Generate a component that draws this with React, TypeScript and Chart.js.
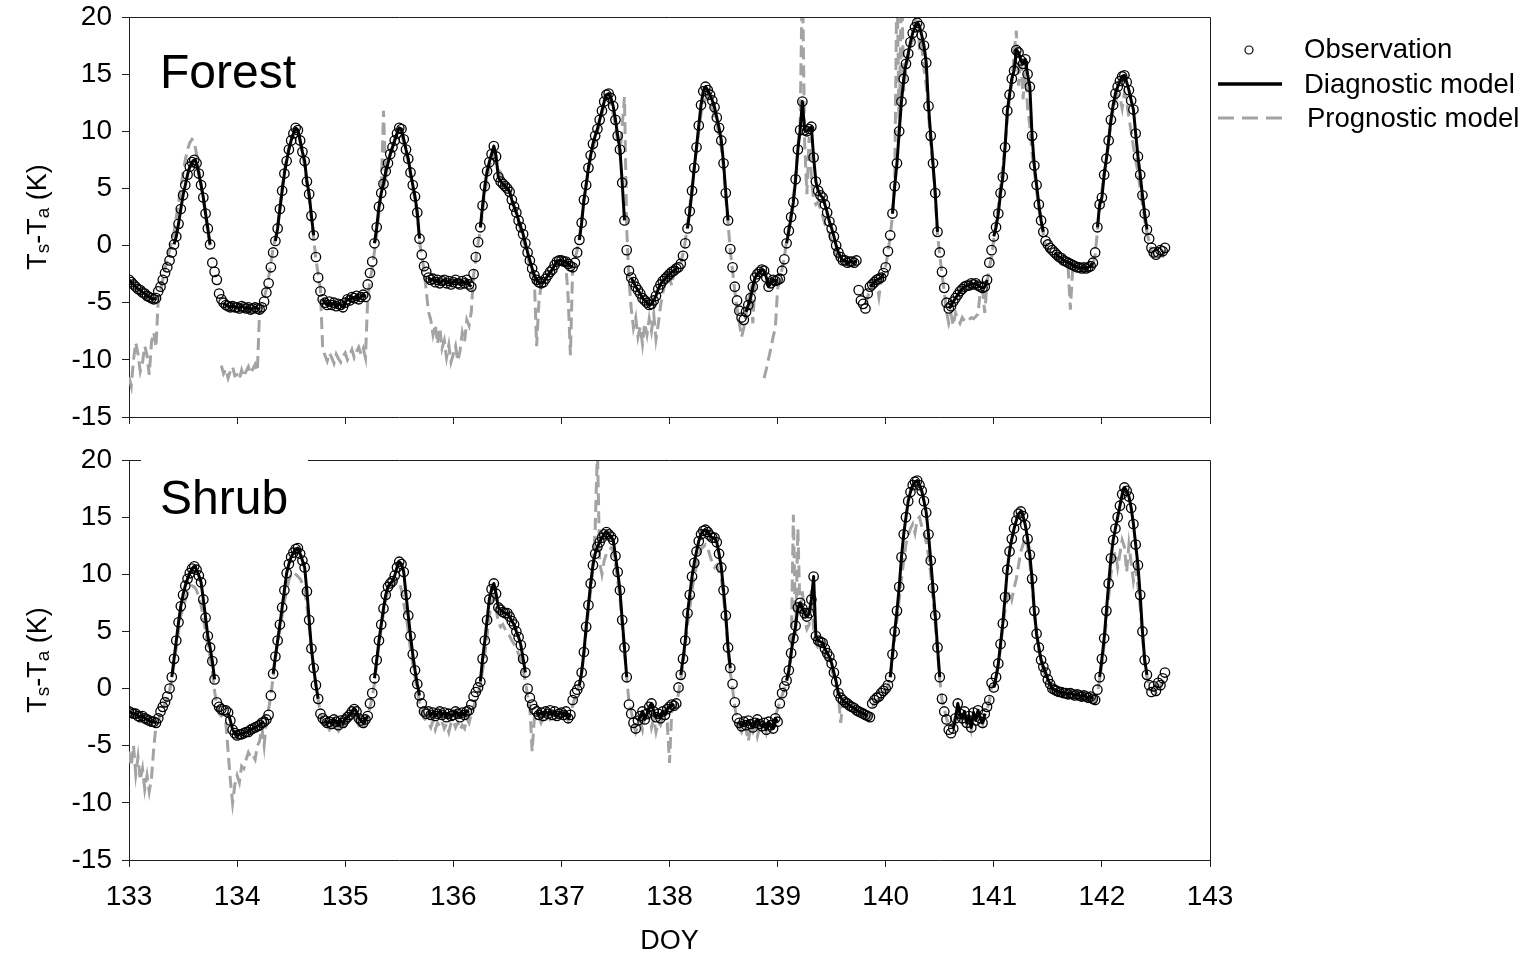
import { useEffect, useRef } from "react";
import { Chart, registerables } from "chart.js";

Chart.register(...registerables);

const n = null;
const DOY_START = 133;
const STEPS_PER_DAY = 48; // half-hourly samples
const xTickValues = [133, 134, 135, 136, 137, 138, 139, 140, 141, 142, 143];
const yTickValues = [-15, -10, -5, 0, 5, 10, 15, 20];
const legendLabels = ["Observation", "Diagnostic model", "Prognostic model"];
const panelLabels = ["Forest", "Shrub"];
const xTitle = "DOY";

// ---------------- Forest ----------------
const forestObs = [
  // 133
  -3.0,-3.2,-3.4,-3.6,-3.8,-3.9,-4.1,-4.2,-4.4,-4.5,-4.6,-4.7,
  -4.6,-4.0,-3.6,-3.0,-2.4,-1.9,-1.3,-0.6,0.1,0.8,1.9,3.2,
  4.4,5.3,6.2,6.9,7.3,7.5,7.2,6.3,5.3,4.2,2.8,1.5,
  0.1,-1.5,-2.3,-3.0,-4.2,-4.7,-5.0,-5.2,-5.3,-5.4,-5.3,-5.4,
  // 134
  -5.4,-5.5,-5.3,-5.4,-5.5,-5.4,-5.6,-5.5,-5.4,-5.5,-5.6,-5.4,
  -4.9,-4.1,-3.3,-1.9,-0.6,0.4,1.5,3.2,4.8,6.3,7.4,8.4,
  9.2,9.8,10.3,10.1,9.2,8.2,7.4,5.6,4.5,2.6,0.9,-1.0,
  -2.8,-4.0,-4.7,-5.0,-5.2,-4.9,-5.2,-5.0,-5.3,-5.1,-5.2,-5.4,
  // 135
  -5.0,-4.7,-4.8,-4.5,-4.6,-4.4,-4.7,-4.5,-4.3,-4.5,-3.4,-2.4,
  -1.4,0.2,1.6,3.4,4.6,5.4,6.5,7.2,8.0,8.6,9.2,9.8,
  10.3,10.2,9.3,8.4,7.6,6.4,5.3,4.3,2.9,0.6,-0.8,-1.8,
  -2.3,-2.8,-3.0,-2.9,-3.2,-3.0,-3.3,-3.1,-3.0,-3.3,-3.1,-3.4,
  // 136
  -3.2,-3.0,-3.3,-3.4,-3.1,-3.3,-3.0,-3.4,-3.6,-2.5,-1.0,0.3,
  1.6,3.5,5.2,6.5,7.3,8.0,8.7,7.8,6.0,5.6,5.4,5.2,
  5.0,4.7,4.0,3.4,2.9,2.2,1.6,1.0,0.2,-0.6,-1.3,-2.0,
  -2.6,-3.0,-3.2,-3.3,-3.2,-2.9,-2.6,-2.3,-2.1,-1.7,-1.4,-1.3,
  // 137
  -1.3,-1.4,-1.4,-1.6,-1.8,-1.9,-1.5,-0.6,0.5,2.0,4.0,5.3,
  6.8,7.9,8.9,9.6,10.2,11.0,11.8,12.6,13.2,13.3,12.9,12.2,
  11.0,9.6,8.4,5.5,2.2,-0.4,-2.2,-2.8,-3.2,-3.6,-3.9,-4.2,
  -4.6,-4.8,-5.0,-5.2,-5.1,-4.8,-4.4,-3.8,-3.4,-3.1,-2.9,-2.7,
  // 138
  -2.5,-2.3,-2.2,-2.0,-1.9,-1.6,-0.9,0.2,1.5,3.0,4.8,6.8,
  8.6,10.5,12.3,13.5,13.9,13.6,13.2,12.7,12.1,11.2,10.3,9.2,
  7.2,4.6,2.2,-0.3,-1.9,-3.6,-4.8,-5.7,-6.3,-6.5,-5.8,-5.2,
  -4.6,-3.6,-2.8,-2.5,-2.3,-2.1,-2.2,-2.8,-3.6,-3.3,-3.0,-3.1,
  // 139
  -3.0,-2.9,-2.2,-1.2,0.2,1.3,2.5,3.8,5.8,8.4,10.1,12.6,
  10.1,10.0,10.2,10.4,7.7,5.6,4.8,4.4,4.2,3.6,2.9,2.1,
  1.5,0.8,0.0,-0.6,-1.0,-1.3,-1.3,-1.5,-1.4,-1.4,-1.5,-1.3,
  -3.9,-4.8,-5.1,-5.5,-4.2,-3.6,-3.4,-3.2,-3.0,-2.9,-2.8,-2.4,
  // 140
  -1.9,-0.5,0.9,2.8,5.2,7.2,10.0,12.6,14.6,15.9,16.8,17.8,
  18.6,19.1,19.5,19.2,18.4,17.5,16.0,12.2,9.6,7.2,4.6,1.2,
  -0.6,-2.3,-3.7,-5.0,-5.5,-5.3,-4.9,-4.6,-4.3,-4.0,-3.8,-3.6,
  -3.5,-3.5,-3.3,-3.4,-3.3,-3.5,-3.6,-3.7,-3.6,-3.0,-1.5,-0.4,
  // 141
  0.8,1.6,2.8,4.6,6.0,8.6,11.8,13.2,14.6,15.3,17.1,16.9,
  16.2,15.9,16.3,15.0,13.9,9.6,7.0,5.3,3.6,2.2,1.2,0.4,
  0.1,-0.2,-0.4,-0.6,-0.8,-1.0,-1.1,-1.3,-1.4,-1.5,-1.6,-1.7,
  -1.8,-1.9,-1.9,-2.0,-1.9,-2.0,-1.9,-1.8,-1.5,-0.6,1.6,3.6,
  // 142
  4.2,6.2,7.6,9.2,11.0,12.3,13.3,13.9,14.4,14.8,14.9,14.3,
  13.6,12.7,11.9,9.8,7.8,6.2,4.4,2.8,1.4,0.6,-0.2,-0.6,
  -0.8,-0.6,-0.4,-0.5,-0.2,
];

const forestDiag = [
  // 133
  -3.0,-3.2,-3.4,-3.6,-3.8,-3.9,-4.1,-4.2,-4.4,-4.5,-4.6,-4.7,
  -4.6,n,n,n,n,n,n,n,0.1,0.8,1.9,3.2,
  4.4,5.3,6.2,6.9,7.3,7.5,7.2,6.3,5.3,4.2,2.8,1.5,
  0.1,n,n,n,n,n,-5.0,-5.2,-5.3,-5.4,-5.3,-5.4,
  // 134
  -5.4,-5.5,-5.3,-5.4,-5.5,-5.4,-5.6,-5.5,-5.4,-5.5,-5.6,n,
  n,n,n,n,n,0.4,1.5,3.2,4.8,6.3,7.4,8.4,
  9.2,9.8,10.3,10.1,9.2,8.2,7.4,5.6,4.5,2.6,0.9,n,
  n,n,-4.7,-5.0,-5.2,-4.9,-5.2,-5.0,-5.3,-5.1,-5.2,-5.4,
  // 135
  -5.0,-4.7,-4.8,-4.5,-4.6,-4.4,-4.7,-4.5,-4.3,-4.5,n,n,
  n,0.2,1.6,3.4,4.6,5.4,6.5,7.2,8.0,8.6,9.2,9.8,
  10.3,10.2,9.3,8.4,7.6,6.4,5.3,4.3,2.9,0.6,n,n,
  n,-2.8,-3.0,-2.9,-3.2,-3.0,-3.3,-3.1,-3.0,-3.3,-3.1,-3.4,
  // 136
  -3.2,-3.0,-3.3,-3.4,-3.1,-3.3,-3.0,-3.4,-3.6,n,n,n,
  1.6,3.5,5.2,6.5,7.3,8.0,8.7,7.8,6.0,5.6,5.4,5.2,
  5.0,4.7,4.0,3.4,2.9,2.2,1.6,1.0,0.2,-0.6,-1.3,-2.0,
  -2.6,-3.0,-3.2,-3.3,-3.2,-2.9,-2.6,-2.3,-2.1,-1.7,-1.4,-1.3,
  // 137
  -1.3,-1.4,-1.4,-1.6,-1.8,-1.9,n,n,0.5,2.0,4.0,5.3,
  6.8,7.9,8.9,9.6,10.2,11.0,11.8,12.6,13.2,13.3,12.9,12.2,
  11.0,9.6,8.4,5.5,2.2,n,n,-2.8,-3.2,-3.6,-3.9,-4.2,
  -4.6,-4.8,-5.0,-5.2,-5.1,-4.8,-4.4,-3.8,-3.4,-3.1,-2.9,-2.7,
  // 138
  -2.5,-2.3,-2.2,-2.0,-1.9,n,n,n,1.5,3.0,4.8,6.8,
  8.6,10.5,12.3,13.5,13.9,13.6,13.2,12.7,12.1,11.2,10.3,9.2,
  7.2,4.6,2.2,n,n,n,n,n,n,n,-5.8,-5.2,
  -4.6,-3.6,-2.8,-2.5,-2.3,-2.1,-2.2,-2.8,-3.6,-3.3,-3.0,-3.1,
  // 139
  -3.0,n,n,n,0.2,1.3,2.5,3.8,5.8,8.4,10.1,12.6,
  10.1,10.0,10.2,10.4,7.7,5.6,4.8,4.4,4.2,3.6,2.9,2.1,
  1.5,0.8,0.0,-0.6,-1.0,-1.3,-1.3,-1.5,-1.4,-1.4,-1.5,-1.3,
  n,n,n,n,n,-3.6,-3.4,-3.2,-3.0,-2.9,-2.8,-2.4,
  // 140
  n,n,n,2.8,5.2,7.2,10.0,12.6,14.6,15.9,16.8,17.8,
  18.6,19.1,19.5,19.2,18.4,17.5,16.0,12.2,9.6,7.2,4.6,1.2,
  n,n,n,n,-5.5,-5.3,-4.9,-4.6,-4.3,-4.0,-3.8,-3.6,
  -3.5,-3.5,-3.3,-3.4,-3.3,-3.5,-3.6,-3.7,-3.6,-3.0,n,n,
  // 141
  0.8,1.6,2.8,4.6,6.0,8.6,11.8,13.2,14.6,15.3,17.1,16.9,
  16.2,15.9,16.3,15.0,13.9,9.6,7.0,5.3,3.6,2.2,1.2,n,
  n,n,n,-0.6,-0.8,-1.0,-1.1,-1.3,-1.4,-1.5,-1.6,-1.7,
  -1.8,-1.9,-1.9,-2.0,-1.9,-2.0,-1.9,-1.8,-1.5,n,1.6,3.6,
  // 142
  4.2,6.2,7.6,9.2,11.0,12.3,13.3,13.9,14.4,14.8,14.9,14.3,
  13.6,12.7,11.9,9.8,7.8,6.2,4.4,2.8,1.4,n,n,n,
  n,n,n,n,n,
];

const forestProg = [
  // 133
  -11.5,-12.3,-10.0,-8.5,-9.5,-11.0,-10.2,-8.8,-9.6,-11.3,-8.4,-7.6,
  -8.9,-4.6,-3.9,-3.0,-2.0,-1.2,-0.4,0.3,1.2,2.5,3.8,5.0,
  6.4,7.5,8.4,9.0,9.3,9.1,8.0,6.6,5.4,4.0,2.6,1.2,
  0.0,n,n,n,n,-10.5,-11.2,-10.8,-11.6,-11.0,-10.6,-11.4,
  // 134
  -11.3,-11.7,-10.9,-11.5,-11.0,-10.6,-11.2,-10.8,-10.4,-11.0,-5.6,-5.4,
  -4.6,-3.8,-2.8,-1.5,-0.2,0.6,1.8,3.4,5.0,6.5,7.6,8.6,
  9.3,9.8,10.1,9.8,9.0,8.0,7.0,5.3,4.1,2.3,0.6,-1.2,
  -2.5,-3.9,-9.0,-9.6,-10.1,-9.4,-9.8,-10.3,-9.5,-9.9,-10.2,-9.7,
  // 135
  -9.4,-10.0,-9.6,-9.1,-9.8,-9.3,-8.9,-9.5,-9.0,-9.8,-4.6,-3.0,
  -2.0,-0.5,1.0,3.0,4.6,11.8,6.0,7.0,8.0,8.7,9.3,9.8,
  10.1,9.8,9.0,8.1,7.3,6.2,5.0,4.0,2.6,0.4,-1.0,-2.0,
  -4.0,-5.8,-6.5,-7.8,-6.9,-8.6,-7.2,-9.0,-8.3,-9.8,-8.7,-10.2,
  // 136
  -9.5,-8.8,-10.1,-9.2,-7.6,-8.4,-6.5,-7.0,-5.8,-2.6,-1.2,0.2,
  1.4,3.0,4.6,5.8,6.8,7.6,7.9,7.0,6.6,6.4,5.9,5.6,
  5.1,4.8,4.2,3.5,2.7,2.0,1.3,0.6,-0.2,-1.0,-1.8,-2.4,
  -3.0,-8.8,-5.0,-3.4,-3.2,-2.9,-2.7,-2.4,-2.2,-1.9,-1.6,-1.5,
  // 137
  -1.5,-1.6,-1.8,-4.5,-9.6,-2.0,-1.2,-0.4,0.8,2.2,4.0,5.4,
  6.6,7.7,8.5,9.2,10.0,10.6,11.5,12.3,12.8,13.0,12.4,11.5,
  10.5,9.0,8.0,10.5,13.0,1.5,-3.0,-5.5,-7.2,-6.3,-8.0,-7.1,
  -8.6,-6.8,-7.8,-6.4,-7.5,-6.0,-8.2,-6.9,-5.3,-4.2,-3.3,-2.6,
  // 138
  -2.8,-3.5,-2.4,-2.2,-2.0,-1.5,-0.7,0.4,1.8,3.4,5.0,6.8,
  8.5,10.0,11.5,12.4,12.8,13.0,12.6,12.0,11.3,10.6,9.7,8.6,
  6.8,4.2,2.0,-0.5,-2.2,-4.0,-5.5,-6.8,-8.0,-7.2,-6.0,-4.8,
  -4.0,-6.8,-3.0,-2.6,-2.4,n,-11.6,-10.8,-9.9,-9.0,-8.0,-7.2,
  // 139
  -3.8,-3.0,-2.0,-1.0,0.4,1.6,2.9,4.2,6.0,8.6,10.5,24.0,
  9.0,4.5,9.5,6.0,4.0,3.6,3.8,3.2,2.6,1.9,1.5,1.0,
  0.3,-0.3,-0.8,-1.2,-1.3,-1.5,-1.4,-1.6,-1.5,-1.4,-1.6,-1.5,
  n,n,n,-5.2,-4.5,-3.8,-3.6,-3.3,-3.2,-4.5,-3.1,-2.6,
  // 140
  -1.8,-0.6,0.8,2.6,5.5,24.0,9.5,24.0,13.5,15.5,16.5,17.5,
  18.0,18.6,24.0,17.0,17.5,15.5,14.0,11.5,9.0,6.8,4.3,1.0,
  -0.8,-2.5,-4.0,-5.8,-6.8,-6.0,-7.0,-5.9,-6.4,-6.8,-6.3,-6.6,
  -6.4,-6.5,-6.3,-6.4,-6.2,-6.0,-4.0,-3.8,-5.9,-3.2,-2.0,-1.0,
  // 141
  0.5,2.0,3.4,5.2,7.0,8.8,11.0,13.0,14.2,16.8,18.8,14.0,
  16.5,12.8,15.8,12.0,10.5,8.0,6.5,4.8,3.2,2.0,1.0,0.0,
  -0.4,-0.6,-0.9,-1.0,-1.2,-1.3,-1.5,-1.6,-1.7,-1.9,-5.6,-2.1,
  -2.0,-2.1,-2.2,-2.1,-2.3,-2.2,-2.1,-2.0,-1.7,-0.8,1.2,3.2,
  // 142
  4.8,6.2,7.5,9.0,10.8,11.8,12.6,13.2,13.0,12.0,13.4,12.6,
  11.2,10.0,8.6,7.5,6.4,5.0,3.6,2.2,1.2,0.3,-0.5,-1.0,
  -1.2,-0.9,-0.7,-0.9,-0.5,
];

// ---------------- Shrub ----------------
const shrubObs = [
  // 133
  -2.0,-2.1,-2.2,-2.2,-2.4,-2.5,-2.4,-2.6,-2.7,-2.8,-2.9,-2.9,
  -3.0,-2.6,-2.0,-1.6,-1.2,-0.7,0.0,1.0,2.6,4.2,5.8,7.2,
  8.2,9.0,9.6,10.1,10.5,10.7,10.4,9.9,9.3,7.8,6.2,4.6,
  3.6,2.4,0.8,-1.2,-1.6,-1.8,-1.9,-1.9,-2.1,-2.8,-3.6,-3.9,
  // 134
  -4.1,-4.0,-4.0,-3.9,-3.8,-3.8,-3.6,-3.5,-3.4,-3.3,-3.2,-3.0,
  -2.9,-2.7,-2.3,-0.6,1.3,2.8,4.2,5.6,7.1,8.6,10.1,10.9,
  11.5,11.9,12.2,12.3,11.8,11.2,10.6,8.5,6.0,3.5,1.8,0.3,
  -0.9,-2.2,-2.6,-2.8,-3.0,-2.9,-3.1,-2.7,-2.9,-3.2,-2.8,-3.0,
  // 135
  -2.7,-2.5,-2.3,-2.0,-1.8,-2.0,-2.6,-2.8,-3.0,-2.7,-2.4,-1.3,
  -0.4,0.9,2.5,4.2,5.6,7.0,8.2,8.9,9.2,9.4,9.9,10.6,
  11.1,10.9,10.2,8.2,6.4,4.6,3.0,1.6,0.4,-0.6,-1.3,-2.0,
  -2.2,-2.0,-2.3,-2.1,-2.4,-2.2,-2.0,-2.3,-2.1,-2.5,-2.2,-2.4,
  // 136
  -2.3,-2.0,-2.2,-2.5,-2.1,-2.3,-2.0,-1.9,-1.4,-0.7,-0.3,0.1,
  0.6,2.6,4.2,6.0,7.8,8.7,9.2,8.3,7.1,6.9,6.7,6.6,
  6.6,6.3,5.9,5.6,5.0,4.5,3.8,2.6,1.4,0.0,-0.8,-1.4,
  -1.8,-2.0,-2.3,-2.1,-2.4,-2.0,-2.2,-1.9,-2.3,-2.0,-2.4,-2.2,
  // 137
  -2.1,-2.3,-2.0,-2.6,-2.3,-1.0,-0.4,-0.1,0.3,1.4,3.2,5.4,
  7.3,9.2,10.8,11.8,12.4,12.8,13.2,13.5,13.7,13.5,13.3,13.0,
  11.6,10.2,8.6,6.0,3.6,1.0,-1.4,-2.2,-3.0,-3.5,-2.8,-2.4,
  -2.0,-2.7,-2.2,-1.6,-1.3,-2.0,-2.5,-2.2,-2.6,-2.0,-2.3,-1.8,
  // 138
  -1.6,-1.4,-1.5,-1.3,0.1,1.2,2.6,4.2,6.6,8.2,9.8,11.0,
  12.0,12.9,13.5,13.8,13.9,13.7,13.4,13.2,13.2,12.8,11.8,10.6,
  8.6,6.4,3.6,1.8,0.4,-1.2,-2.6,-3.0,-3.3,-2.9,-3.2,-2.8,
  -3.1,-3.4,-3.0,-2.7,-3.1,-3.3,-3.0,-3.6,-2.9,-3.2,-3.5,-2.6,
  // 139
  -2.9,-1.3,-0.4,0.2,0.7,1.6,3.1,4.4,5.5,7.1,7.5,7.0,
  6.6,6.3,6.6,7.8,9.8,4.6,4.2,4.1,4.0,3.5,3.1,2.8,
  2.2,1.4,0.6,-0.4,-0.8,-1.0,-1.2,-1.3,-1.5,-1.6,-1.7,-1.9,
  -2.0,-2.1,-2.2,-2.3,-2.4,-2.5,-1.3,-1.0,-0.8,-0.7,-0.4,-0.2,
  // 140
  0.0,0.3,1.0,3.0,5.0,6.8,8.9,11.5,13.5,15.0,16.4,17.2,
  17.8,18.1,18.2,17.8,17.3,16.4,15.4,13.5,11.2,8.8,6.4,3.6,
  1.0,-0.9,-2.0,-2.7,-3.6,-3.9,-3.5,-2.6,-1.3,-2.2,-2.6,-2.0,
  -3.0,-2.4,-3.4,-2.1,-2.8,-1.9,-2.6,-3.0,-2.2,-1.6,-1.0,0.5,
  // 141
  0.1,1.0,2.2,3.9,5.7,8.0,10.4,12.0,13.1,14.0,14.7,15.3,
  15.5,15.1,14.3,13.1,11.7,9.6,6.8,4.8,3.6,2.5,1.9,1.4,
  0.8,0.4,0.0,-0.1,-0.2,-0.3,-0.3,-0.4,-0.4,-0.5,-0.4,-0.5,
  -0.6,-0.5,-0.6,-0.7,-0.6,-0.7,-0.8,-0.7,-0.9,-1.0,-0.1,1.0,
  // 142
  2.6,4.4,6.8,9.2,11.4,13.0,14.0,15.0,16.0,17.0,17.6,17.3,
  16.8,15.8,14.4,12.6,10.8,8.2,5.0,2.5,1.2,0.3,-0.3,0.2,
  -0.2,0.5,0.3,0.9,1.4,
];

const shrubDiag = [
  // 133
  -2.0,-2.1,-2.2,-2.2,-2.4,-2.5,-2.4,-2.6,-2.7,-2.8,-2.9,-2.9,
  -3.0,n,n,n,n,n,n,1.0,2.6,4.2,5.8,7.2,
  8.2,9.0,9.6,10.1,10.5,10.7,10.4,9.9,9.3,7.8,6.2,4.6,
  3.6,2.4,0.8,n,n,n,n,n,-2.1,-2.8,-3.6,-3.9,
  // 134
  -4.1,-4.0,-4.0,-3.9,-3.8,-3.8,-3.6,-3.5,-3.4,-3.3,-3.2,-3.0,
  -2.9,n,n,n,1.3,2.8,4.2,5.6,7.1,8.6,10.1,10.9,
  11.5,11.9,12.2,12.3,11.8,11.2,10.6,8.5,6.0,3.5,1.8,0.3,
  -0.9,n,n,-2.8,-3.0,-2.9,-3.1,-2.7,-2.9,-3.2,-2.8,-3.0,
  // 135
  -2.7,-2.5,-2.3,-2.0,-1.8,-2.0,-2.6,-2.8,-3.0,-2.7,-2.4,n,
  n,0.9,2.5,4.2,5.6,7.0,8.2,8.9,9.2,9.4,9.9,10.6,
  11.1,10.9,10.2,8.2,6.4,4.6,3.0,1.6,0.4,-0.6,n,n,
  n,-2.0,-2.3,-2.1,-2.4,-2.2,-2.0,-2.3,-2.1,-2.5,-2.2,-2.4,
  // 136
  -2.3,-2.0,-2.2,-2.5,-2.1,-2.3,-2.0,-1.9,n,n,n,n,
  0.6,2.6,4.2,6.0,7.8,8.7,9.2,8.3,7.1,6.9,6.7,6.6,
  6.6,6.3,5.9,5.6,5.0,4.5,3.8,2.6,1.4,n,n,n,
  n,-2.0,-2.3,-2.1,-2.4,-2.0,-2.2,-1.9,-2.3,-2.0,-2.4,-2.2,
  // 137
  -2.1,-2.3,-2.0,-2.6,-2.3,n,n,n,0.3,1.4,3.2,5.4,
  7.3,9.2,10.8,11.8,12.4,12.8,13.2,13.5,13.7,13.5,13.3,13.0,
  11.6,10.2,8.6,6.0,3.6,1.0,n,n,n,n,-2.8,-2.4,
  -2.0,-2.7,-2.2,-1.6,-1.3,-2.0,-2.5,-2.2,-2.6,-2.0,-2.3,-1.8,
  // 138
  -1.6,-1.4,-1.5,n,n,1.2,2.6,4.2,6.6,8.2,9.8,11.0,
  12.0,12.9,13.5,13.8,13.9,13.7,13.4,13.2,13.2,12.8,11.8,10.6,
  8.6,6.4,3.6,1.8,n,n,n,-3.0,-3.3,-2.9,-3.2,-2.8,
  -3.1,-3.4,-3.0,-2.7,-3.1,-3.3,-3.0,-3.6,-2.9,-3.2,-3.5,-2.6,
  // 139
  -2.9,n,n,n,0.7,1.6,3.1,4.4,5.5,7.1,7.5,7.0,
  6.6,6.3,6.6,7.8,9.8,4.6,4.2,4.1,4.0,3.5,3.1,2.8,
  2.2,1.4,0.6,-0.4,-0.8,-1.0,-1.2,-1.3,-1.5,-1.6,-1.7,-1.9,
  -2.0,-2.1,-2.2,-2.3,-2.4,n,n,n,n,n,n,n,
  // 140
  n,n,1.0,3.0,5.0,6.8,8.9,11.5,13.5,15.0,16.4,17.2,
  17.8,18.1,18.2,17.8,17.3,16.4,15.4,13.5,11.2,8.8,6.4,3.6,
  1.0,n,n,n,n,n,-3.5,-2.6,-1.3,-2.2,-2.6,-2.0,
  -3.0,-2.4,-3.4,-2.1,-2.8,-1.9,-2.6,-3.0,-2.2,n,n,n,
  // 141
  0.1,1.0,2.2,3.9,5.7,8.0,10.4,12.0,13.1,14.0,14.7,15.3,
  15.5,15.1,14.3,13.1,11.7,9.6,6.8,4.8,3.6,2.5,1.9,1.4,
  0.8,0.4,0.0,-0.1,-0.2,-0.3,-0.3,-0.4,-0.4,-0.5,-0.4,-0.5,
  -0.6,-0.5,-0.6,-0.7,-0.6,-0.7,-0.8,-0.7,-0.9,n,n,1.0,
  // 142
  2.6,4.4,6.8,9.2,11.4,13.0,14.0,15.0,16.0,17.0,17.6,17.3,
  16.8,15.8,14.4,12.6,10.8,8.2,5.0,2.5,1.2,n,n,n,
  n,n,n,n,n,
];

const shrubProg = [
  // 133
  -5.5,-6.8,-5.0,-7.5,-6.0,-8.0,-7.0,-8.8,-7.6,-9.0,-7.8,-5.2,
  -3.2,-2.8,-2.2,-1.7,-1.3,-0.8,-0.2,0.8,2.2,3.6,5.0,6.4,
  7.0,7.8,8.4,8.8,9.0,8.9,8.6,8.0,7.3,6.2,5.0,3.8,
  2.8,1.4,-0.2,-1.6,-2.2,-2.4,-2.6,-3.0,-5.5,-8.0,-10.0,-8.4,
  // 134
  -7.6,-8.2,-6.8,-7.0,-6.2,-5.6,-6.0,-5.8,-6.2,-5.0,-4.6,-3.4,
  -5.0,-2.8,-1.8,-0.6,1.0,2.6,4.0,5.2,6.4,7.6,8.6,9.5,
  10.0,10.2,10.0,9.8,9.6,9.2,8.6,7.2,5.4,3.6,1.8,0.4,
  -1.0,-2.2,-3.0,-3.4,-3.2,-3.6,-3.3,-3.8,-3.4,-3.7,-3.2,-3.5,
  // 135
  -3.3,-3.0,-2.8,-2.5,-2.3,-2.8,-3.2,-3.6,-3.4,-3.0,-2.6,-1.6,
  -0.8,0.5,2.2,3.8,5.2,6.6,7.8,8.5,8.8,9.0,9.3,9.6,
  9.4,8.6,7.4,6.4,5.0,3.4,2.2,1.0,-0.2,-1.2,-2.0,-2.6,
  -2.8,-3.0,-3.4,-2.8,-3.6,-3.0,-3.3,-2.9,-3.5,-3.1,-3.8,-3.0,
  // 136
  -2.8,-3.4,-3.0,-3.6,-3.2,-3.5,-2.6,-3.0,-2.2,-1.6,-1.0,-0.4,
  0.2,1.6,3.0,4.6,6.4,7.5,8.0,7.0,5.8,5.4,5.6,5.2,
  4.8,4.6,4.2,3.9,3.5,3.0,2.4,1.6,0.6,-0.6,-1.6,-5.5,
  -2.6,-2.8,-2.4,-3.0,-2.6,-2.9,-2.3,-2.7,-2.5,-2.8,-2.4,-2.6,
  // 137
  -2.4,-2.7,-2.5,-2.8,-2.3,-1.5,-0.8,-0.2,0.4,1.6,3.0,5.0,
  6.8,8.6,10.4,14.0,21.0,11.0,10.0,11.2,11.8,12.0,12.3,12.0,
  10.8,9.4,8.0,5.6,3.2,1.0,-1.2,-2.0,-3.0,-3.8,-3.2,-2.8,
  -3.6,-2.4,-3.0,-2.2,-3.4,-2.6,-3.8,-2.9,-3.2,-2.6,-2.9,-3.0,
  // 138
  -6.5,-2.0,-1.8,-1.5,-0.4,0.8,2.2,3.8,5.6,7.0,8.6,9.8,
  10.8,11.6,12.2,12.4,12.6,12.3,11.6,11.0,10.6,10.8,10.2,9.6,
  8.0,6.0,3.2,1.4,0.0,-1.6,-2.8,-3.4,-3.8,-3.2,-3.6,-4.6,
  -3.4,-3.8,-3.2,-4.2,-3.4,-3.6,-3.1,-3.9,-3.2,-3.4,-3.0,-2.4,
  // 139
  -1.8,-1.2,-0.6,0.0,0.6,1.4,2.8,15.2,4.6,14.0,6.4,8.5,
  6.0,5.2,5.6,8.6,5.2,4.0,3.6,3.6,3.2,2.8,2.4,2.2,
  1.6,1.0,0.2,-0.6,-3.0,-1.2,-1.4,-1.4,-1.6,-1.8,-1.7,-2.0,
  -2.1,-2.3,-2.4,-2.6,-2.5,-2.7,-1.8,-1.2,-1.0,-0.9,-0.6,-0.3,
  // 140
  -0.2,0.2,0.8,2.6,4.4,6.0,7.8,9.6,11.2,12.6,13.4,14.0,
  14.4,13.6,14.8,15.0,14.2,13.6,12.8,11.6,10.0,7.8,5.6,3.2,
  0.8,-1.0,-1.8,-2.6,-3.2,-3.4,-3.0,-2.4,-2.0,-2.6,-3.0,-2.4,
  -3.2,-2.6,-3.6,-2.4,-3.0,-2.2,-2.8,-3.2,-2.4,-1.8,-1.2,0.2,
  // 141
  0.2,0.8,2.0,3.6,5.4,6.8,8.0,8.6,7.8,8.8,9.6,10.8,
  12.0,12.6,13.2,12.4,11.0,9.0,6.6,4.6,3.4,2.4,1.6,1.0,
  0.6,0.2,-0.2,-0.3,-0.4,-0.5,-0.6,-0.6,-0.7,-0.8,-0.7,-0.8,
  -0.9,-0.8,-0.9,-1.0,-0.9,-1.0,-1.1,-1.0,-1.2,-1.3,-0.4,0.8,
  // 142
  2.2,3.8,6.0,8.0,10.0,11.4,12.0,10.6,11.8,13.0,12.4,10.2,
  12.6,11.0,9.4,10.5,9.0,7.2,4.6,2.3,1.0,0.2,-0.2,0.0,
  -0.4,0.3,0.1,0.6,1.2,
];

const FONT = "Arial, 'Liberation Sans', Helvetica, sans-serif";
const GREY = "#a3a3a3";

function toPoints(values: (number | null)[]) {
  return values.map((v, i) => ({ x: DOY_START + i / STEPS_PER_DAY, y: v }));
}

function drawYTitle(ctx: CanvasRenderingContext2D, baseX: number, cy: number) {
  const big = `27px ${FONT}`;
  const small = `19px ${FONT}`;
  const parts: [string, string, number][] = [
    ["T", big, 0],
    ["s", small, 3],
    ["-T", big, 0],
    ["a", small, 3],
    [" (K)", big, 0],
  ];
  ctx.save();
  ctx.translate(baseX, cy);
  ctx.rotate(-Math.PI / 2);
  ctx.textAlign = "left";
  ctx.textBaseline = "alphabetic";
  ctx.fillStyle = "#000";
  let total = 0;
  for (const [t, f] of parts) {
    ctx.font = f;
    total += ctx.measureText(t).width;
  }
  let x = -total / 2;
  for (const [t, f, dy] of parts) {
    ctx.font = f;
    ctx.fillText(t, x, dy);
    x += ctx.measureText(t).width;
  }
  ctx.restore();
}

function drawLegend(ctx: CanvasRenderingContext2D) {
  ctx.save();
  ctx.font = `27.5px ${FONT}`;
  ctx.textAlign = "left";
  ctx.textBaseline = "middle";
  ctx.fillStyle = "#000";
  // observation marker
  ctx.beginPath();
  ctx.arc(1249, 50, 4, 0, Math.PI * 2);
  ctx.strokeStyle = "#000";
  ctx.lineWidth = 1.2;
  ctx.stroke();
  ctx.fillText(legendLabels[0], 1304, 50);
  // diagnostic line
  ctx.beginPath();
  ctx.moveTo(1218, 84);
  ctx.lineTo(1282, 84);
  ctx.lineWidth = 3.5;
  ctx.strokeStyle = "#000";
  ctx.stroke();
  ctx.fillText(legendLabels[1], 1304, 85);
  // prognostic dashed line
  ctx.beginPath();
  ctx.setLineDash([16, 8]);
  ctx.moveTo(1218, 118);
  ctx.lineTo(1282, 118);
  ctx.lineWidth = 3;
  ctx.strokeStyle = GREY;
  ctx.stroke();
  ctx.setLineDash([]);
  ctx.fillText(legendLabels[2], 1307, 119);
  ctx.restore();
}

const decorPlugin = {
  id: "decor",
  afterDraw(chart: any, _args: any, opts: any) {
    const { ctx, chartArea: a } = chart;
    ctx.save();
    ctx.strokeStyle = "#1e1e1e";
    ctx.lineWidth = 1;
    ctx.beginPath();
    const t = Math.round(a.top) + 0.5;
    const r = Math.round(a.right) + 0.5;
    ctx.moveTo(Math.round(a.left), t);
    ctx.lineTo(r, t);
    ctx.lineTo(r, Math.round(a.bottom) + 0.5);
    ctx.stroke();
    if (opts.mask) {
      ctx.fillStyle = "#fff";
      ctx.fillRect(opts.mask[0], a.top - 3, opts.mask[1] - opts.mask[0], 6);
    }
    ctx.fillStyle = "#000";
    ctx.textAlign = "left";
    ctx.textBaseline = "alphabetic";
    ctx.font = `48px ${FONT}`;
    ctx.fillText(opts.label, 160, opts.labelY);
    drawYTitle(ctx, 46, (a.top + a.bottom) / 2);
    if (opts.xTitle) {
      ctx.font = `27px ${FONT}`;
      ctx.textAlign = "center";
      ctx.textBaseline = "middle";
      ctx.fillText(opts.xTitle, (a.left + a.right) / 2, opts.xTitleY);
    }
    if (opts.legend) drawLegend(ctx);
    ctx.restore();
  },
};

function zeroPadding(s: any) {
  s.paddingTop = 0;
  s.paddingBottom = 0;
  s.paddingLeft = 0;
  s.paddingRight = 0;
}

function makeConfig(p: any) {
  const tickFont = { family: FONT, size: 28 };
  return {
    type: "scatter",
    data: {
      datasets: [
        {
          label: legendLabels[0],
          data: toPoints(p.obs),
          showLine: false,
          pointStyle: "circle",
          pointRadius: 4.7,
          pointBorderWidth: 1.3,
          pointBorderColor: "#000",
          pointBackgroundColor: "rgba(255,255,255,0)",
          order: 0,
        },
        {
          label: legendLabels[1],
          data: toPoints(p.diag),
          showLine: true,
          borderColor: "#000",
          borderWidth: 3,
          pointRadius: 0,
          spanGaps: false,
          borderJoinStyle: "round",
          tension: 0,
          order: 1,
        },
        {
          label: legendLabels[2],
          data: toPoints(p.prog),
          showLine: true,
          borderColor: GREY,
          borderWidth: 3,
          borderDash: [12, 6],
          pointRadius: 0,
          spanGaps: false,
          tension: 0,
          order: 2,
        },
      ],
    },
    options: {
      animation: false,
      responsive: false,
      events: [],
      layout: { padding: { top: p.areaTop, right: 1527 - 1210, left: 0, bottom: 0 } },
      plugins: {
        legend: { display: false },
        tooltip: { enabled: false },
        decor: {
          label: p.label,
          labelY: p.labelY,
          legend: p.legend,
          mask: p.mask,
          xTitle: p.xTitle,
          xTitleY: p.xTitleY,
        },
      },
      scales: {
        x: {
          type: "linear",
          min: 133,
          max: 143,
          afterFit: (s: any) => {
            s.height = p.canvasH - p.areaBottom;
            zeroPadding(s);
          },
          afterBuildTicks: (s: any) => {
            s.ticks = xTickValues.map((v) => ({ value: v }));
          },
          ticks: {
            display: p.showXLabels,
            font: tickFont,
            color: "#000",
            padding: 13,
            maxRotation: 0,
            autoSkip: false,
            callback: (v: any) => String(v),
          },
          grid: { drawOnChartArea: false, drawTicks: true, tickLength: 7, color: "#1e1e1e", lineWidth: 1 },
          border: { display: true, color: "#1e1e1e", width: 1 },
        },
        y: {
          type: "linear",
          min: -15,
          max: 20,
          afterFit: (s: any) => {
            s.width = 129;
            zeroPadding(s);
          },
          afterBuildTicks: (s: any) => {
            s.ticks = yTickValues.map((v) => ({ value: v }));
          },
          ticks: {
            font: tickFont,
            color: "#000",
            padding: 10,
            callback: (v: any) => String(v),
          },
          grid: { drawOnChartArea: false, drawTicks: true, tickLength: 7, color: "#1e1e1e", lineWidth: 1 },
          border: { display: true, color: "#1e1e1e", width: 1 },
        },
      },
    },
    plugins: [decorPlugin],
  };
}

export default function App() {
  const topRef = useRef<HTMLCanvasElement>(null);
  const botRef = useRef<HTMLCanvasElement>(null);

  useEffect(() => {
    const top = new Chart(
      topRef.current as HTMLCanvasElement,
      makeConfig({
        obs: forestObs,
        diag: forestDiag,
        prog: forestProg,
        label: panelLabels[0],
        labelY: 88,
        areaTop: 17,
        areaBottom: 417,
        canvasH: 440,
        showXLabels: false,
        legend: true,
      }) as any
    );
    const bot = new Chart(
      botRef.current as HTMLCanvasElement,
      makeConfig({
        obs: shrubObs,
        diag: shrubDiag,
        prog: shrubProg,
        label: panelLabels[1],
        labelY: 74,
        areaTop: 20,
        areaBottom: 420,
        canvasH: 514,
        showXLabels: true,
        legend: false,
        mask: [141, 308],
        xTitle: xTitle,
        xTitleY: 502,
      }) as any
    );
    return () => {
      top.destroy();
      bot.destroy();
    };
  }, []);

  return (
    <div style={{ position: "fixed", left: 0, top: 0, width: 1527, height: 954, background: "#fff" }}>
      <canvas
        ref={topRef}
        width={1527}
        height={440}
        style={{ position: "absolute", left: 0, top: 0, width: 1527, height: 440 }}
      />
      <canvas
        ref={botRef}
        width={1527}
        height={514}
        style={{ position: "absolute", left: 0, top: 440, width: 1527, height: 514 }}
      />
    </div>
  );
}
